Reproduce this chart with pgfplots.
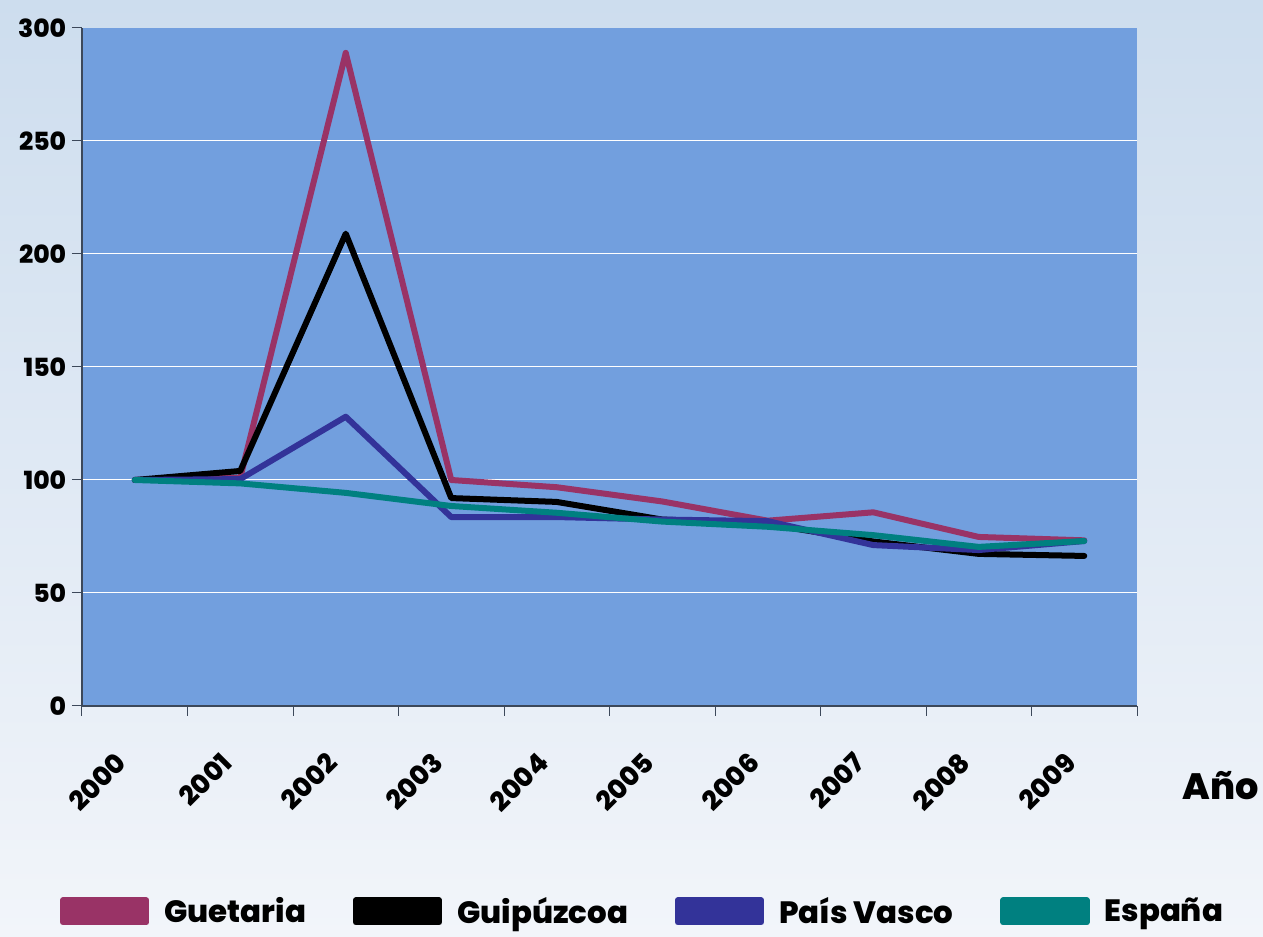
\documentclass[border=0pt]{standalone}
\usepackage{pgfplots}
\pgfplotsset{compat=1.18}
\usepackage{fontspec}
\setmainfont{Poppins}[BoldFont={Poppins ExtraBold}]
\definecolor{plotbg}{RGB}{114,159,222}
\definecolor{bgtop}{RGB}{205,221,238}
\definecolor{bgbot}{RGB}{242,245,250}
\definecolor{axiscol}{RGB}{60,72,90}
\definecolor{cGuet}{RGB}{153,51,102}
\definecolor{cPV}{RGB}{51,51,153}
\definecolor{cEsp}{RGB}{0,128,128}
\begin{document}
\begin{tikzpicture}
\shade[top color=bgtop,bottom color=bgbot] (0,0) rectangle (757.8pt,562.2pt);
\useasboundingbox (0,0) rectangle (757.8pt,562.2pt);
\begin{axis}[
  at={(49.2pt,138.6pt)}, anchor=south west,
  scale only axis, width=633pt, height=406.8pt,
  xmin=-0.5, xmax=9.5, ymin=0, ymax=300,
  axis lines=left,
  axis line style={-, draw=axiscol, line width=0.8pt},
  axis background/.style={fill=plotbg},
  ytick={0,50,...,250},
  extra y ticks={300},
  extra y tick style={grid=none},
  ymajorgrids,
  grid style={white, line width=0.6pt},
  tick align=outside,
  major tick length=6pt,
  tick style={draw=axiscol, line width=0.6pt},
  xtick={-0.5,0.5,...,9.5},
  xticklabels={},
  extra x ticks={0,1,...,9},
  extra x tick labels={2000,2001,2002,2003,2004,2005,2006,2007,2008,2009},
  extra x tick style={major tick length=0pt, xmajorgrids=false,
    xticklabel style={xshift=-8pt, yshift=-31pt, rotate=45, anchor=east, inner sep=0pt,
      font=\bfseries\fontsize{16}{18}\selectfont}},
  yticklabel style={font=\bfseries\fontsize{15}{17}\selectfont},
  /pgf/number format/assume math mode=true,
  xlabel={Año},
  xlabel style={at={(rel axis cs:1,0)}, anchor=base, xshift=50.4pt, yshift=-56.4pt,
    font=\bfseries\fontsize{22}{26}\selectfont},
  legend style={at={(rel axis cs:0.532,-0.303)}, anchor=center, draw=none, fill=none,
    legend columns=4, font=\bfseries\fontsize{18.5}{20}\selectfont,
    /tikz/every even column/.append style={column sep=26pt},
    /tikz/every odd column/.append style={column sep=7pt}},
  legend cell align=left,
  legend image code/.code={\fill[#1] (0pt,-6.6pt) rectangle (50pt,6.6pt);},
  every axis plot/.append style={line width=3.6pt, line join=round, line cap=round},
]
\addplot[color=cGuet] coordinates {(0,100) (1,101) (2,289) (3,100) (4,96.8) (5,90.5) (6,82) (7,85.7) (8,74.8) (9,73.3)};
\addlegendentry{Guetaria}
\addplot[color=black] coordinates {(0,100) (1,104) (2,209) (3,92) (4,90.3) (5,82.5) (6,80.5) (7,72.8) (8,67.3) (9,66.4)};
\addlegendentry{Guipúzcoa}
\addplot[color=cPV] coordinates {(0,100) (1,100.4) (2,128) (3,83.6) (4,83.6) (5,82.5) (6,81.8) (7,71.2) (8,69) (9,73)};
\addlegendentry{País Vasco}
\addplot[color=cEsp] coordinates {(0,100) (1,98.5) (2,94.3) (3,88.5) (4,85.5) (5,81.6) (6,79.3) (7,75.6) (8,70.4) (9,73)};
\addlegendentry{España}
\end{axis}
\end{tikzpicture}
\end{document}
